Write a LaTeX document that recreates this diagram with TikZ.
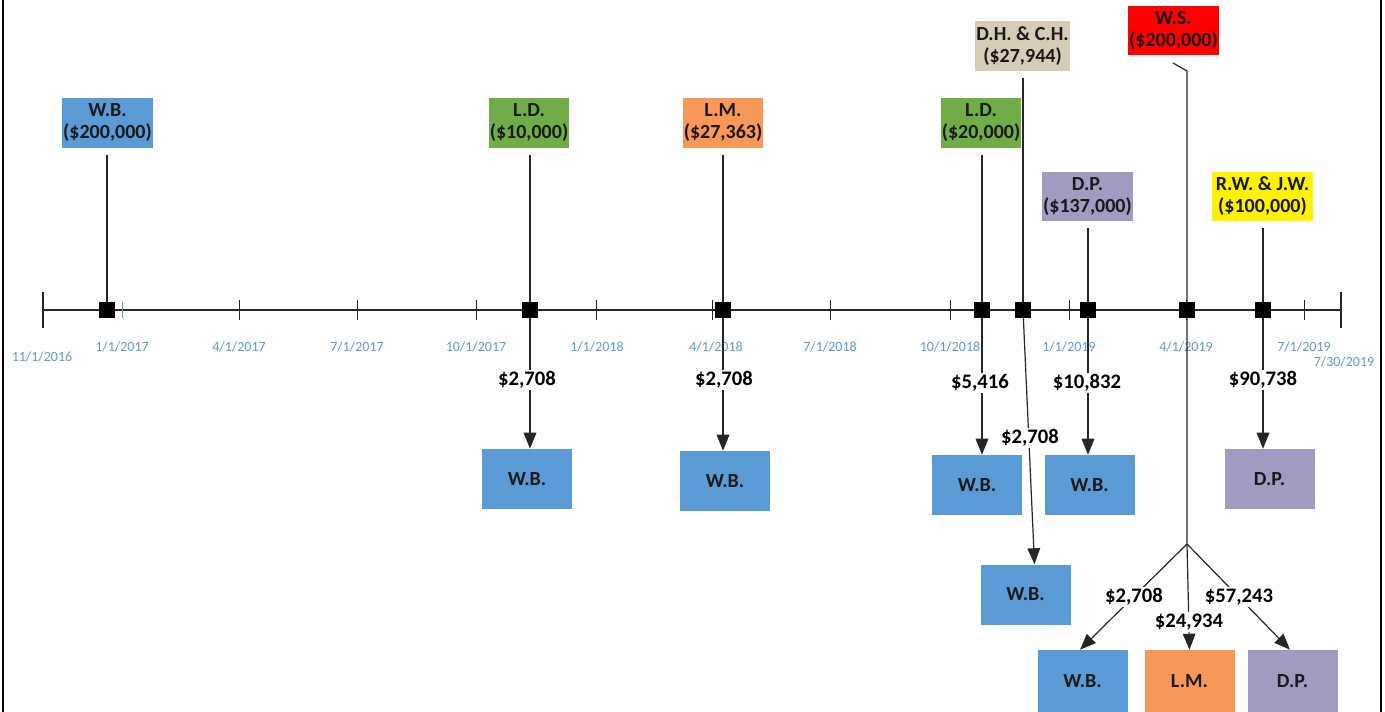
\documentclass[tikz,border=0pt]{standalone}
\usepackage{fontspec}
\setmainfont{Carlito}
\usetikzlibrary{arrows.meta,calc}
\definecolor{cblue}{HTML}{5B9BD5}
\definecolor{cgreen}{HTML}{70AD47}
\definecolor{corange}{HTML}{F89858}
\definecolor{cpurple}{HTML}{A29BC1}
\definecolor{ctan}{HTML}{D6CCB6}
\definecolor{cdate}{HTML}{5B9BD5}
\begin{document}
\begin{tikzpicture}[x=0.75pt,y=-0.75pt,
  topbox/.style={font=\bfseries\fontsize{15}{16.5}\selectfont, align=center, inner sep=0pt, text=black!90, minimum height=37.5pt},
  botbox/.style={minimum width=67.5pt, minimum height=45pt, inner sep=0pt, font=\bfseries\fontsize{15}{18}\selectfont, text=black!90},
  amt/.style={fill=white, inner sep=1pt, font=\bfseries\fontsize{15.5}{18}\selectfont},
  datelbl/.style={text=cdate, font=\fontsize{10.5}{12}\selectfont, inner sep=0pt},
  evt/.style={fill=black, minimum size=12pt, inner sep=0pt},
  conn/.style={line width=0.9pt, draw=black!85},
  arr/.style={conn, -{Triangle[length=12pt,width=9.5pt]}},
  topline/.style={conn, shorten <=5.25pt},
  frame/.style={line width=1.5pt, draw=black}
]
\useasboundingbox (0,0) rectangle (1385,712);
\draw[frame] (3,0) -- (3,712);
\draw[frame] (1381,0) -- (1381,712);

% axis
\coordinate (a0) at (43,310);
\coordinate (a1) at (1341,310);
\draw[conn] (a0) -- (a1);
\draw[conn] (43,292) -- (43,328);
\draw[conn] (1341,292) -- (1341,328);
\foreach \x in {239,357,476,596,712,830,950,1069,1186,1304}{
  \draw[conn,line width=0.7pt] (\x,300) -- (\x,320);
}
\draw[line width=0.7pt,draw=cdate] (122,302) -- (122,318);

% date labels
\node[datelbl] (d0) at (42,357) {11/1/2016};
\node[datelbl] (d1) at (122,347) {1/1/2017};
\node[datelbl] (d2) at (239,347) {4/1/2017};
\node[datelbl] (d3) at (357,347) {7/1/2017};
\node[datelbl] (d4) at (476,347) {10/1/2017};
\node[datelbl] (d5) at (597,347) {1/1/2018};
\node[datelbl] (d6) at (716,347) {4/1/2018};
\node[datelbl] (d7) at (830,347) {7/1/2018};
\node[datelbl] (d8) at (950,347) {10/1/2018};
\node[datelbl] (d9) at (1069,347) {1/1/2019};
\node[datelbl] (d10) at (1186,347) {4/1/2019};
\node[datelbl] (d11) at (1304,347) {7/1/2019};
\node[datelbl] (d12) at (1344,362) {7/30/2019};

% top boxes
\node[topbox, fill=cblue, minimum width=68.25pt] (wb0) at (107.5,123) {W.B.\\(\$200,000)};
\node[topbox, fill=cgreen, minimum width=60pt] (ld1) at (529,123) {L.D.\\(\$10,000)};
\node[topbox, fill=corange, minimum width=60pt] (lm1) at (723,123) {L.M.\\(\$27,363)};
\node[topbox, fill=cgreen, minimum width=60pt] (ld2) at (981,123) {L.D.\\(\$20,000)};
\node[topbox, fill=ctan, minimum width=71.25pt] (dh) at (1022.5,46) {D.H. \& C.H.\\(\$27,944)};
\node[topbox, fill=red, minimum width=68.25pt, minimum height=36.75pt] (ws) at (1173.5,30.5) {W.S.\\(\$200,000)};
\node[topbox, fill=cpurple, minimum width=68.25pt, minimum height=36.75pt] (dp1) at (1087.5,196.5) {D.P.\\(\$137,000)};
\node[topbox, fill=yellow, minimum width=75.75pt, minimum height=36.75pt] (rw) at (1262.5,196.5) {R.W. \& J.W.\\(\$100,000)};

% event squares (positions)
\coordinate (e1) at (107,310);
\coordinate (e2) at (530,310);
\coordinate (e3) at (723,310);
\coordinate (e4) at (982,310);
\coordinate (e5) at (1023,310);
\coordinate (e6) at (1088,310);
\coordinate (e7) at (1187,310);
\coordinate (e8) at (1263,310);

% bottom boxes
\node[botbox, fill=cblue] (b1) at (527,479) {W.B.};
\node[botbox, fill=cblue] (b2) at (725,481) {W.B.};
\node[botbox, fill=cblue] (b3) at (977,485) {W.B.};
\node[botbox, fill=cblue] (b4) at (1089.5,485) {W.B.};
\node[botbox, fill=cblue] (b5) at (1025.5,594.5) {W.B.};
\node[botbox, fill=cpurple] (b6) at (1269.5,479) {D.P.};
\node[botbox, fill=cblue, minimum height=46.5pt] (b7) at (1082.5,681) {W.B.};
\node[botbox, fill=corange, minimum height=46.5pt] (b8) at (1189.5,681) {L.M.};
\node[botbox, fill=cpurple, minimum height=46.5pt] (b9) at (1292.5,681) {D.P.};

% top connectors
\draw[topline] (wb0.south -| e1) -- (e1);
\draw[topline] (ld1.south -| e2) -- (e2);
\draw[topline] (lm1.south -| e3) -- (e3);
\draw[topline] (ld2.south -| e4) -- (e4);
\draw[topline] (dh.south -| e5) -- (e5);
\draw[topline] (dp1.south -| e6) -- (e6);
\draw[topline] (rw.south -| e8) -- (e8);
\coordinate (wsbend) at (1187,71);
\coordinate (br) at (1187,544);
\draw[conn] (1173,63) -- (wsbend) -- (e7) -- (br);

% downward arrows
\draw[arr] (e2) -- (b1.north -| e2);
\draw[arr] (e3) -- (b2.north -| e3);
\draw[arr] (e4) -- (b3.north -| e4);
\draw[arr] (e6) -- (b4.north -| e6);
\draw[arr] (e5) -- ($(b5.north)+(9,0)$);
\draw[arr] (e8) -- (b6.north -| e8);
\draw[arr] (br) -- ($(b7.north)+(-2.5,0)$);
\draw[arr] (br) -- (b8.north);
\draw[arr] (br) -- ($(b9.north)+(-2.5,0)$);

% squares
\foreach \e in {e1,e2,e3,e4,e5,e6,e7,e8}{
  \node[evt] at (\e) {};
}

% amounts
\node[amt] (m1) at (527,380) {\$2,708};
\node[amt] (m2) at (724,380) {\$2,708};
\node[amt] (m3) at (980,383) {\$5,416};
\node[amt] (m4) at (1087,383) {\$10,832};
\node[amt] (m5) at (1030,438) {\$2,708};
\node[amt] (m6) at (1263,380) {\$90,738};
\node[amt] (m7) at (1134,597) {\$2,708};
\node[amt] (m8) at (1189,622) {\$24,934};
\node[amt] (m9) at (1239,597) {\$57,243};
\end{tikzpicture}
\end{document}
